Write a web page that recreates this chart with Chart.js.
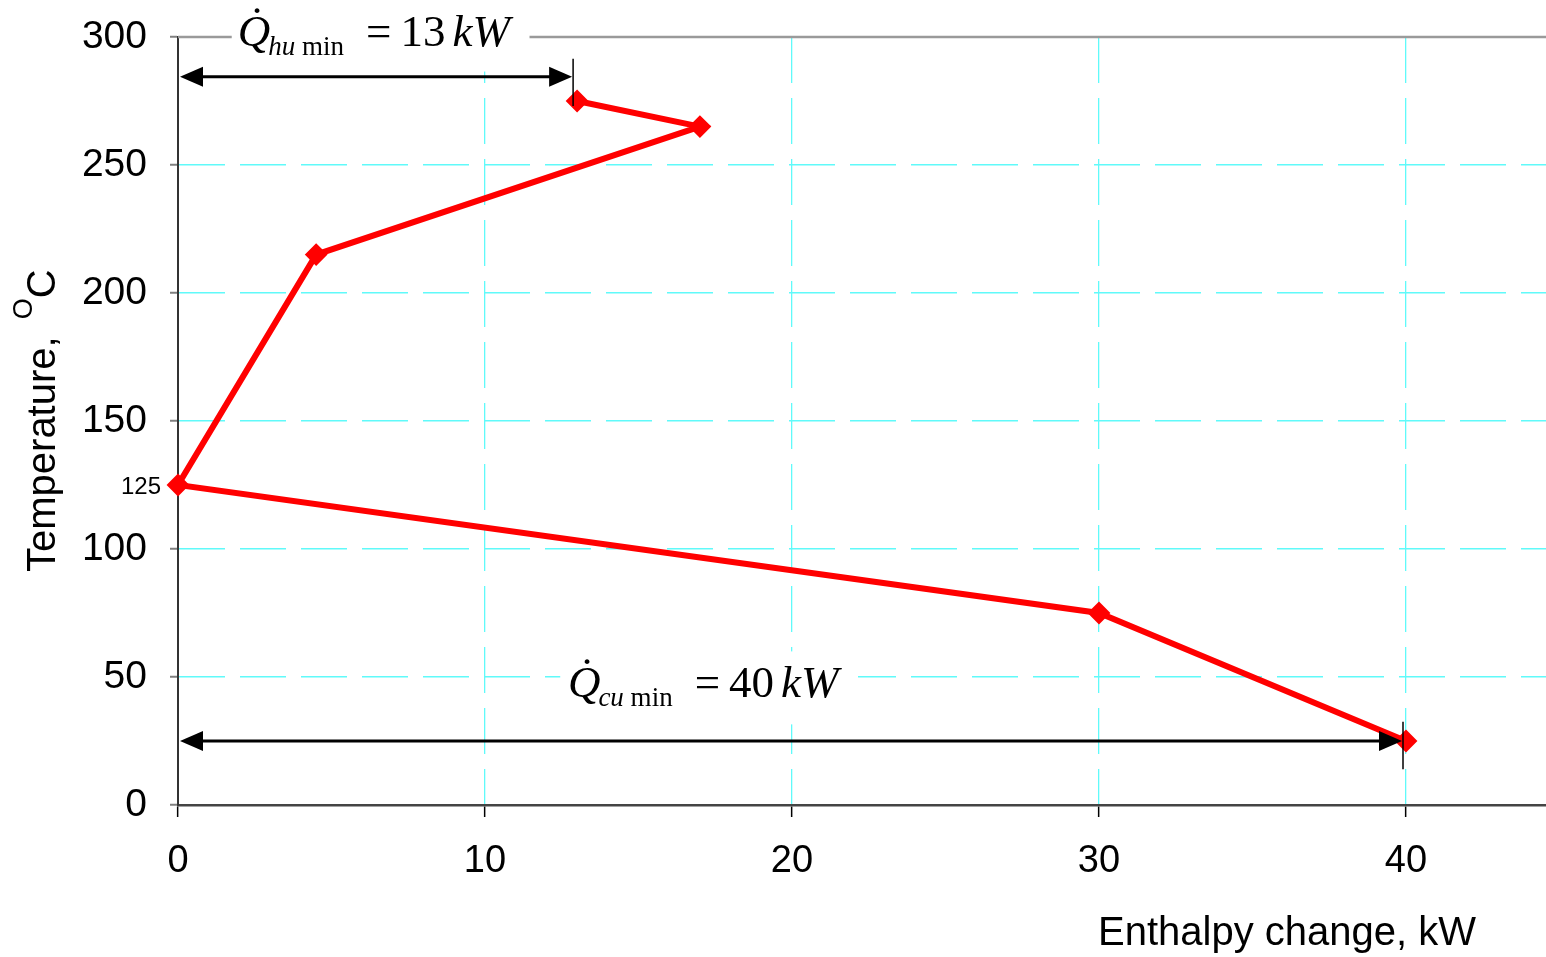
<!DOCTYPE html>
<html>
<head>
<meta charset="utf-8">
<script src="https://cdn.jsdelivr.net/npm/chart.js@4/dist/chart.umd.min.js"></script>
<style>
  html, body { margin: 0; padding: 0; background: #fff; }
  #wrap { width: 1546px; height: 957px; }
</style>
</head>
<body>
<div id="wrap"><canvas id="c" width="1546" height="957"></canvas></div>
<script>
// ---- data ----
const enthalpyKW   = [13, 17, 4.5, 0, 30, 40];
const temperatureC = [275, 265, 215, 125, 75, 25];
const xTickValues  = [0, 10, 20, 30, 40];
const yTickValues  = [0, 50, 100, 150, 200, 250, 300];
const pinchTemp    = 125;
const hotUtilityMin  = 13;   // kW
const coldUtilityMin = 40;   // kW
const xAxisTitle = 'Enthalpy change, kW';
const yAxisTitle = 'Temperature, ';

// ---- styling ----
const SANS  = '"Liberation Sans", Arial, Helvetica, sans-serif';
const SERIF = '"Liberation Serif", "Times New Roman", serif';
const CYAN  = 'rgb(96,250,250)';
const RED   = '#ff0000';

const points = enthalpyKW.map((x, i) => ({ x: x, y: temperatureC[i] }));

function arrowHead(ctx, tipX, y, dir) {
  const len = 23, half = 10;
  ctx.beginPath();
  ctx.moveTo(tipX, y);
  ctx.lineTo(tipX - dir * len, y - half);
  ctx.lineTo(tipX - dir * len, y + half);
  ctx.closePath();
  ctx.fill();
}

function drawQ(ctx, x, y, sub, val) {
  ctx.save();
  ctx.fillStyle = '#000';
  ctx.textAlign = 'left';
  ctx.textBaseline = 'alphabetic';
  let cx = x;
  ctx.font = 'italic 45px ' + SERIF;
  ctx.fillText('Q', cx, y);
  const qw = ctx.measureText('Q').width;
  ctx.font = '45px ' + SERIF;
  ctx.fillText('\u02D9', cx + qw * 0.36, y - 8);
  cx += qw - 2;
  ctx.font = 'italic 27px ' + SERIF;
  ctx.fillText(sub, cx, y + 9);
  cx += ctx.measureText(sub).width;
  ctx.font = '27px ' + SERIF;
  ctx.fillText(' min', cx, y + 9);
  cx += ctx.measureText(' min').width + 22;
  ctx.font = '45px ' + SERIF;
  ctx.fillText('=', cx, y);
  cx += ctx.measureText('=').width + 9;
  ctx.fillText(String(val), cx, y);
  cx += ctx.measureText(String(val)).width + 7;
  ctx.font = 'italic 45px ' + SERIF;
  ctx.fillText('kW', cx, y);
  ctx.restore();
}

function noScalePadding(scale) {
  scale.paddingTop = 0;
  scale.paddingBottom = 0;
  scale.paddingLeft = 0;
  scale.paddingRight = 0;
}

const decor = {
  id: 'decor',
  afterDraw(chart) {
    const ctx = chart.ctx;
    const xs = chart.scales.x, ys = chart.scales.y;
    const area = chart.chartArea;
    ctx.save();

    // top border line at 300
    ctx.strokeStyle = '#9a9a9a';
    ctx.lineWidth = 2.5;
    ctx.beginPath();
    ctx.moveTo(area.left, ys.getPixelForValue(300));
    ctx.lineTo(area.right, ys.getPixelForValue(300));
    ctx.stroke();

    // white boxes behind labels
    ctx.fillStyle = '#fff';
    ctx.fillRect(xs.getPixelForValue(1.75), ys.getPixelForValue(305), xs.getPixelForValue(11.45) - xs.getPixelForValue(1.75), ys.getPixelForValue(286.5) - ys.getPixelForValue(305));
    ctx.fillRect(xs.getPixelForValue(12.45), ys.getPixelForValue(60), xs.getPixelForValue(22.15) - xs.getPixelForValue(12.45), ys.getPixelForValue(31.5) - ys.getPixelForValue(60));

    // arrows
    ctx.fillStyle = '#000';
    ctx.strokeStyle = '#000';
    let ay = ys.getPixelForValue(284.5);
    let x0 = xs.getPixelForValue(0) + 2, x1 = xs.getPixelForValue(hotUtilityMin) - 5;
    ctx.lineWidth = 3;
    ctx.beginPath(); ctx.moveTo(x0 + 15, ay); ctx.lineTo(x1 - 15, ay); ctx.stroke();
    arrowHead(ctx, x0, ay, -1);
    arrowHead(ctx, x1, ay, 1);
    ctx.lineWidth = 1.5;
    ctx.beginPath(); ctx.moveTo(x1 + 1, ys.getPixelForValue(291.5)); ctx.lineTo(x1 + 1, ys.getPixelForValue(273)); ctx.stroke();

    ay = ys.getPixelForValue(25);
    x0 = xs.getPixelForValue(0) + 2; x1 = xs.getPixelForValue(coldUtilityMin) - 4;
    ctx.lineWidth = 3;
    ctx.beginPath(); ctx.moveTo(x0 + 15, ay); ctx.lineTo(x1 - 15, ay); ctx.stroke();
    arrowHead(ctx, x0, ay, -1);
    arrowHead(ctx, x1, ay, 1);
    ctx.lineWidth = 1.5;
    ctx.beginPath(); ctx.moveTo(x1 + 1, ys.getPixelForValue(32.5)); ctx.lineTo(x1 + 1, ys.getPixelForValue(14)); ctx.stroke();

    // math labels
    drawQ(ctx, xs.getPixelForValue(1.95), ys.getPixelForValue(296.5), 'hu', hotUtilityMin);
    drawQ(ctx, xs.getPixelForValue(12.7), ys.getPixelForValue(42.2), 'cu', coldUtilityMin);

    // pinch temperature label
    ctx.fillStyle = '#000';
    ctx.font = '24px ' + SANS;
    ctx.textAlign = 'right';
    ctx.textBaseline = 'middle';
    ctx.fillText(String(pinchTemp), area.left - 17, ys.getPixelForValue(pinchTemp) + 2);

    // x axis title
    ctx.font = '40px ' + SANS;
    ctx.textAlign = 'left';
    ctx.textBaseline = 'alphabetic';
    ctx.fillText(xAxisTitle, 1098, 945);

    // y axis title (rotated)
    ctx.translate(55, 572);
    ctx.rotate(-Math.PI / 2);
    ctx.font = '40px ' + SANS;
    ctx.fillText(yAxisTitle, 0, 0);
    let w = ctx.measureText(yAxisTitle).width + 6;
    ctx.font = '27px ' + SANS;
    ctx.fillText('O', w, -23);
    w += ctx.measureText('O').width;
    ctx.font = '40px ' + SANS;
    ctx.fillText('C', w, 0);
    ctx.restore();
  }
};

Chart.defaults.font.family = SANS;
Chart.defaults.color = '#000';

new Chart(document.getElementById('c'), {
  type: 'scatter',
  data: {
    datasets: [{
      data: points,
      showLine: true,
      borderColor: RED,
      backgroundColor: RED,
      borderWidth: 6,
      pointStyle: 'rectRot',
      pointRadius: 10,
      pointBorderWidth: 2,
      pointBorderColor: RED,
      pointBackgroundColor: RED,
      clip: false,
      tension: 0
    }]
  },
  options: {
    responsive: false,
    animation: false,
    events: [],
    layout: { autoPadding: false, padding: { top: 37, right: 0, bottom: 0, left: 0 } },
    plugins: { legend: { display: false }, tooltip: { enabled: false } },
    scales: {
      x: {
        type: 'linear',
        min: 0,
        max: 44.56,
        afterBuildTicks(scale) { scale.ticks = xTickValues.map(v => ({ value: v })); },
        afterFit(scale) { scale.height = 152; noScalePadding(scale); },
        ticks: { font: { size: 38 }, padding: 22, color: '#000', autoSkip: false, maxRotation: 0 },
        grid: {
          color: (c) => (c.tick && c.tick.value === 0) ? 'rgba(0,0,0,0)' : CYAN,
          lineWidth: 1.3,
          tickColor: '#000',
          tickWidth: 1.5,
          tickLength: 12
        },
        border: { display: true, color: '#444', width: 2.5, dash: [46, 15] }
      },
      y: {
        type: 'linear',
        min: 0,
        max: 300,
        afterBuildTicks(scale) { scale.ticks = yTickValues.map(v => ({ value: v })); },
        afterFit(scale) { scale.width = 178; noScalePadding(scale); },
        ticks: { font: { size: 39 }, padding: 23, color: '#000', autoSkip: false },
        grid: {
          color: (c) => (c.tick && (c.tick.value === 0 || c.tick.value === 300)) ? 'rgba(0,0,0,0)' : CYAN,
          lineWidth: 1.5,
          tickColor: '#808080',
          tickWidth: 2,
          tickLength: 8
        },
        border: { display: true, color: '#333', width: 2, dash: [46, 15] }
      }
    }
  },
  plugins: [decor]
});
</script>
</body>
</html>
